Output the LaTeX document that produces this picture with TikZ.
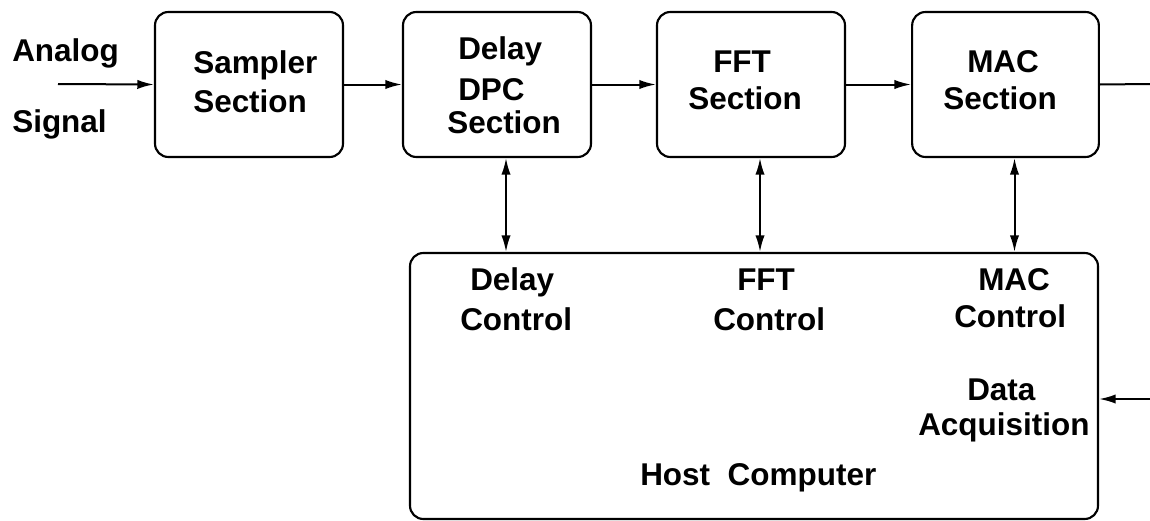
\documentclass[tikz,border=0pt]{standalone}
\usepackage{fontspec}
\setmainfont{Liberation Sans}
\usepackage{tikz}
\usetikzlibrary{arrows.meta}

\tikzset{
  blk/.style={draw, line width=1.6pt, rounded corners=10pt, inner sep=0pt},
  lbl/.style={anchor=base west, inner sep=0pt, font=\fontsize{23.6}{28}\selectfont\bfseries},
  arr/.style={line width=1.5pt, -{Latex[length=12.5pt,width=7pt]}},
  dbl/.style={line width=1.5pt, {Latex[length=12.5pt,width=7pt]}-{Latex[length=12.5pt,width=7pt]}},
}

\begin{document}
\begin{tikzpicture}[x=0.75pt,y=0.75pt,yscale=-1,xscale=1]
            \useasboundingbox (0,0) rectangle (1150,521);

            %Shape: Rounded Rect [sampler]
            \node [blk, minimum width=141pt, minimum height=108.75pt] (sampler) at (249,84.5) {};
            %Shape: Rounded Rect [delay]
            \node [blk, minimum width=141pt, minimum height=108.75pt] (delay) at (497,84.5) {};
            %Shape: Rounded Rect [fft]
            \node [blk, minimum width=141pt, minimum height=108.75pt] (fft) at (751,84.5) {};
            %Shape: Rounded Rect [mac]
            \node [blk, minimum width=140pt, minimum height=108.75pt] (mac) at (1005.5,84.5) {};
            %Shape: Rounded Rect [host]
            \node [blk, minimum width=516pt, minimum height=199.5pt] (host) at (754,386) {};

            % free ends
            \coordinate (ain) at (58,84);
            \coordinate (aout) at (1150,84);
            \coordinate (daq) at (1150,399);
            \coordinate (dlyc) at ([xshift=6.75pt]delay.south);
            \coordinate (fftc) at ([xshift=6.75pt]fft.south);
            \coordinate (macc) at ([xshift=6.75pt]mac.south);

            % signal chain
            \draw [arr] (ain) -- (sampler.west);
            \draw [arr] (sampler.east) -- (delay.west);
            \draw [arr] (delay.east) -- (fft.west);
            \draw [arr] (fft.east) -- (mac.west);
            \draw [line width=1.5pt] (mac.east) -- (aout);
            \draw [arr] (daq) -- (daq -| host.east);

            % control links
            \draw [dbl] (dlyc) -- (dlyc |- host.north);
            \draw [dbl] (fftc) -- (fftc |- host.north);
            \draw [dbl] (macc) -- (macc |- host.north);

            % Text Node
            \node [lbl] (anlg) at (12,61) {Analog};
            \node [lbl] (sgnl) at (12,132) {Signal};
            % Text Node
            \node [lbl] (smp1) at (193,73) {Sampler};
            \node [lbl] (smp2) at (193,112) {Section};
            % Text Node
            \node [lbl] (dly1) at (458,60) {Delay};
            \node [lbl] (dly2) at (458,100) {DPC};
            \node [lbl] (dly3) at (447,133) {Section};
            % Text Node
            \node [lbl] (fft1) at (713,72) {FFT};
            \node [lbl] (fft2) at (688,109) {Section};
            % Text Node
            \node [lbl] (mac1) at (967,72) {MAC};
            \node [lbl] (mac2) at (943,109) {Section};
            % Text Node
            \node [lbl] (dct1) at (470,290) {Delay};
            \node [lbl] (dct2) at (460,330) {Control};
            \node [lbl] (fct1) at (737,290) {FFT};
            \node [lbl] (fct2) at (713,330) {Control};
            \node [lbl] (mct1) at (978,290) {MAC};
            \node [lbl] (mct2) at (954,327) {Control};
            % Text Node
            \node [lbl] (daq1) at (967,400) {Data};
            \node [lbl] (daq2) at (918,435) {Acquisition};
            % Text Node
            \node [lbl] (hst) at (640,485) {Host\ \ Computer};

\end{tikzpicture}
\end{document}
